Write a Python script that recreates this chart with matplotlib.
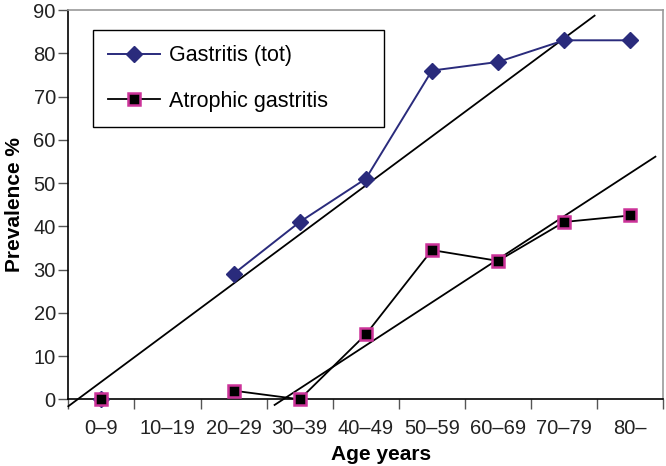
import numpy as np
import matplotlib.pyplot as plt

plt.rcParams['font.family'] = ['Liberation Sans', 'DejaVu Sans']

age_groups = ['0\u20139', '10\u201319', '20\u201329', '30\u201339', '40\u201349',
              '50\u201359', '60\u201369', '70\u201379', '80\u2013']
gastritis = [0, np.nan, 29, 41, 51, 76, 78, 83, 83]
atrophic = [0, np.nan, 2, 0, 15, 34.5, 32, 41, 42.5]

# trend lines, endpoints (category units, %)
trend_gas_x = [-0.5, 7.46]
trend_gas_y = [-1.6, 88.7]
trend_atr_x = [2.62, 8.38]
trend_atr_y = [-1.3, 56.1]

navy = '#2a2b7c'
pink = '#cc3399'

fig = plt.figure(figsize=(6.66, 4.66), dpi=100)
ax = fig.add_axes([0.1026, 0.1431, 0.8934, 0.8354])

x = np.arange(len(age_groups))

ax.plot(trend_gas_x, trend_gas_y, color='black', lw=1.3, zorder=2, clip_on=False)
ax.plot(trend_atr_x, trend_atr_y, color='black', lw=1.3, zorder=2, clip_on=False)

ax.plot(x, gastritis, color=navy, lw=1.4, marker='D', markersize=8,
        markerfacecolor=navy, markeredgecolor=navy, label='Gastritis (tot)',
        zorder=3, clip_on=False)
ax.plot(x, atrophic, color='black', lw=1.3, marker='s', markersize=8,
        markerfacecolor='black', markeredgecolor=pink, markeredgewidth=1.8,
        label='Atrophic gastritis', zorder=4, clip_on=False)

ax.set_xlim(-0.5, 8.5)
ax.set_ylim(0, 90)
ax.set_yticks(range(0, 91, 10))
ax.set_xticks(x)
ax.set_xticklabels(age_groups)
ax.set_xticks(np.arange(-0.5, 9, 1), minor=True)
ax.tick_params(axis='x', which='major', length=0, pad=14, labelsize=14.5, labelcolor='#222222')
ax.tick_params(axis='x', which='minor', length=7, width=1, color='#555555')
ax.tick_params(axis='y', length=7, width=1, color='#555555', labelsize=14.5,
               labelcolor='#222222', pad=2)

for side in ['top', 'right']:
    ax.spines[side].set_color('#999999')
    ax.spines[side].set_linewidth(1.2)
for side in ['left', 'bottom']:
    ax.spines[side].set_color('black')
    ax.spines[side].set_linewidth(1.2)

ax.set_xlabel('Age years', fontsize=15, fontweight='bold')
ax.xaxis.set_label_coords(0.525, -0.157)
ax.xaxis.label.set_va('baseline')
ax.set_ylabel('Prevalence %', fontsize=15, fontweight='bold', labelpad=7)

leg = ax.legend(loc='upper left', bbox_to_anchor=(0.0415, 0.2, 0.489, 0.7486),
                mode='expand', fontsize=15.5, frameon=True, fancybox=False,
                edgecolor='black', framealpha=1, borderpad=0.7, labelspacing=1.15,
                handlelength=2.4, handletextpad=0.45, borderaxespad=0)
leg.get_frame().set_linewidth(1.0)

fig.savefig('out.png', dpi=100)
